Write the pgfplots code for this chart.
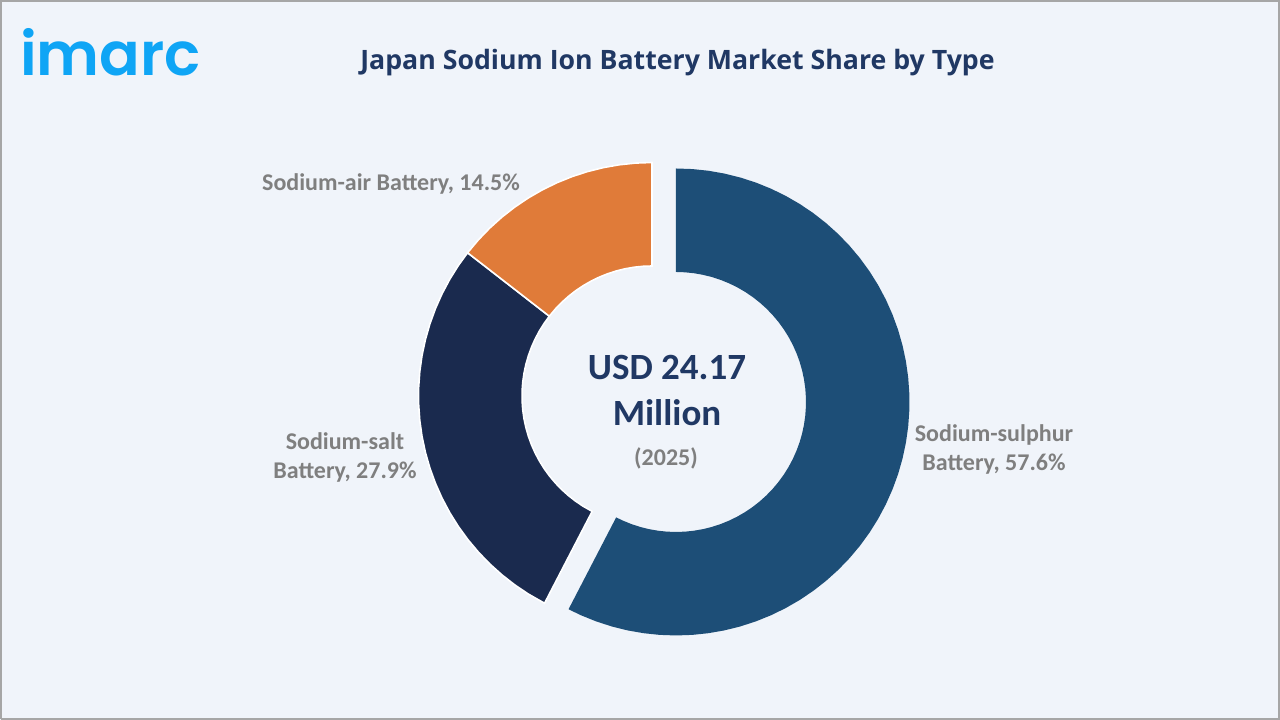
\documentclass[border=0pt]{standalone}
\usepackage{pgfplots}
\pgfplotsset{compat=1.18}
\usepackage{fontspec}
\setmainfont{Carlito}
\newfontfamily\titlefont{Open Sans}
\newfontfamily\logofont{Poppins SemiBold}
\definecolor{bg}{HTML}{F0F4FA}
\definecolor{blueS}{HTML}{1D4E77}
\definecolor{navyS}{HTML}{1A2A4E}
\definecolor{orangeS}{HTML}{E07B39}
\definecolor{titleC}{HTML}{203864}
\definecolor{labelC}{HTML}{7F7F7F}
\definecolor{logoC}{HTML}{0FA5F5}
\pgfplotstableread{
angle radius
90 233.5
86 233.5
82 233.5
78 233.5
74 233.5
70 233.5
66 233.5
62 233.5
58 233.5
54 233.5
50 233.5
46 233.5
42 233.5
38 233.5
34 233.5
30 233.5
26 233.5
22 233.5
18 233.5
14 233.5
10 233.5
6 233.5
2 233.5
-2 233.5
-6 233.5
-10 233.5
-14 233.5
-18 233.5
-22 233.5
-26 233.5
-30 233.5
-34 233.5
-38 233.5
-42 233.5
-46 233.5
-50 233.5
-54 233.5
-58 233.5
-62 233.5
-66 233.5
-70 233.5
-74 233.5
-78 233.5
-82 233.5
-86 233.5
-90 233.5
-94 233.5
-98 233.5
-102 233.5
-106 233.5
-110 233.5
-114 233.5
-117.4 233.5
-117.4 130
-114 130
-110 130
-106 130
-102 130
-98 130
-94 130
-90 130
-86 130
-82 130
-78 130
-74 130
-70 130
-66 130
-62 130
-58 130
-54 130
-50 130
-46 130
-42 130
-38 130
-34 130
-30 130
-26 130
-22 130
-18 130
-14 130
-10 130
-6 130
-2 130
2 130
6 130
10 130
14 130
18 130
22 130
26 130
30 130
34 130
38 130
42 130
46 130
50 130
54 130
58 130
62 130
66 130
70 130
74 130
78 130
82 130
86 130
90 130
}\sulphur
\pgfplotstableread{
angle radius
-117.4 233.5
-122 233.5
-126 233.5
-130 233.5
-134 233.5
-138 233.5
-142 233.5
-146 233.5
-150 233.5
-154 233.5
-158 233.5
-162 233.5
-166 233.5
-170 233.5
-174 233.5
-178 233.5
-182 233.5
-186 233.5
-190 233.5
-194 233.5
-198 233.5
-202 233.5
-206 233.5
-210 233.5
-214 233.5
-217.84 233.5
-217.84 130
-214 130
-210 130
-206 130
-202 130
-198 130
-194 130
-190 130
-186 130
-182 130
-178 130
-174 130
-170 130
-166 130
-162 130
-158 130
-154 130
-150 130
-146 130
-142 130
-138 130
-134 130
-130 130
-126 130
-122 130
-117.4 130
}\salt
\pgfplotstableread{
angle radius
142.16 233.5
138 233.5
134 233.5
130 233.5
126 233.5
122 233.5
118 233.5
114 233.5
110 233.5
106 233.5
102 233.5
98 233.5
94 233.5
90 233.5
90 130
94 130
98 130
102 130
106 130
110 130
114 130
118 130
122 130
126 130
130 130
134 130
138 130
142.16 130
}\air
\begin{document}
\begin{tikzpicture}
\begin{axis}[
  scale only axis, width=1280pt, height=720pt,
  xmin=-652, xmax=628, ymin=-324, ymax=396,
  hide axis, clip=false, anchor=origin, at={(0pt,0pt)},
]
% background and frame
\addplot[draw=none, fill=bg, forget plot] coordinates {(-652,-324) (628,-324) (628,396) (-652,396)} -- cycle;
\addplot[draw=black!35, line width=2pt, forget plot] coordinates {(-651,-323) (627,-323) (627,395) (-651,395) (-651,-323)};
% slices
\addplot[draw=none, fill=blueS, data cs=polar, xshift=24pt, yshift=-6pt] table[x=angle,y=radius] {\sulphur} -- cycle;
\addplot[draw=white, line width=1.6pt, fill=navyS, data cs=polar] table[x=angle,y=radius] {\salt} -- cycle;
\addplot[draw=white, line width=1.6pt, fill=orangeS, data cs=polar] table[x=angle,y=radius] {\air} -- cycle;
% texts
\node[font=\logofont\fontsize{60}{60}\selectfont, text=logoC, anchor=base west, inner sep=0pt] at (axis cs:-632,320) {imarc};
\node[font=\titlefont\fontsize{26.7}{30}\selectfont\bfseries, text=titleC, anchor=center] at (axis cs:25.5,333) {Japan Sodium Ion Battery Market Share by Type};
\node[font=\fontsize{37}{40}\selectfont\bfseries, text=titleC, anchor=center] at (axis cs:15,28) {USD 24.17};
\node[font=\fontsize{37}{40}\selectfont\bfseries, text=titleC, anchor=center] at (axis cs:15,-17) {Million};
\node[font=\fontsize{24}{28}\selectfont\bfseries, text=labelC, anchor=center] at (axis cs:14,-62) {(2025)};
\node[font=\fontsize{24}{28}\selectfont\bfseries, text=labelC, anchor=center] at (axis cs:-261,212) {Sodium-air Battery, 14.5\%};
\node[font=\fontsize{24}{28}\selectfont\bfseries, text=labelC, anchor=center] at (axis cs:-307,-45) {Sodium-salt};
\node[font=\fontsize{24}{28}\selectfont\bfseries, text=labelC, anchor=center] at (axis cs:-307,-76) {Battery, 27.9\%};
\node[font=\fontsize{24}{28}\selectfont\bfseries, text=labelC, anchor=center] at (axis cs:342,-39) {Sodium-sulphur};
\node[font=\fontsize{24}{28}\selectfont\bfseries, text=labelC, anchor=center] at (axis cs:342,-68) {Battery, 57.6\%};
\end{axis}
\end{tikzpicture}
\end{document}
